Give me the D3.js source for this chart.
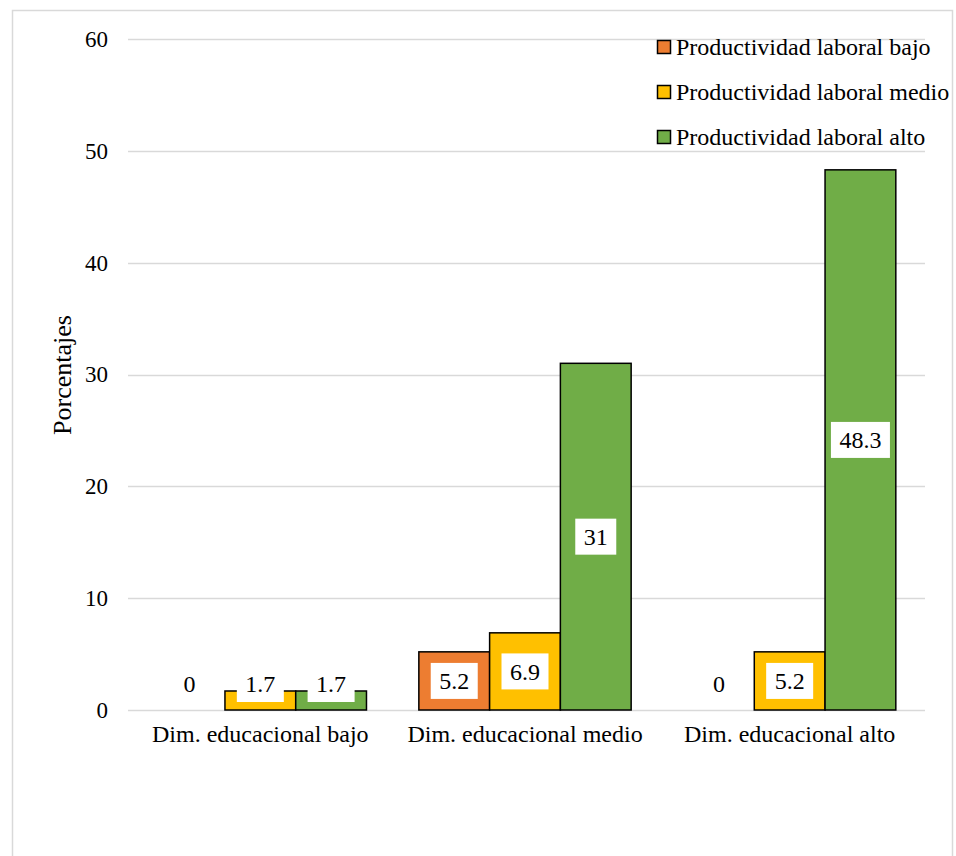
<!DOCTYPE html>
<html><head><meta charset="utf-8">
<script src="https://cdn.jsdelivr.net/npm/d3@7"></script>
<style>body{margin:0;background:#fff}svg{display:block}
svg text{font-family:"Liberation Serif","Tinos","Times New Roman","DejaVu Serif",serif;fill:#000}</style>
</head><body>
<svg id="c" width="956" height="856"></svg>
<script>
const categories = ["Dim. educacional bajo", "Dim. educacional medio", "Dim. educacional alto"];
const seriesNames = ["Productividad laboral bajo", "Productividad laboral medio", "Productividad laboral alto"];
const bajo = [0, 5.2, 0];
const medio = [1.7, 6.9, 5.2];
const alto = [1.7, 31, 48.3];
const colors = ["#ED7D31", "#FFC000", "#70AD47"];
const yTicks = [0, 10, 20, 30, 40, 50, 60];

const series = [bajo, medio, alto];
const svg = d3.select("#c");

svg.append("rect").attr("x", 12.5).attr("y", 10.5).attr("width", 940).attr("height", 900)
  .attr("fill", "#fff").attr("stroke", "#d9d9d9").attr("stroke-width", 1.5);

const pLeft = 128, pRight = 922, gridRight = 925, pTop = 39, pBottom = 710;
const x0 = d3.scaleBand().domain(categories).range([pLeft, pRight]).paddingInner(0).paddingOuter(0);
const x1 = d3.scaleBand().domain(d3.range(3)).range([0, x0.bandwidth()]).paddingOuter(0.37);
const y = d3.scaleLinear().domain([0, 60]).range([pBottom, pTop]);

// gridlines
svg.append("g").selectAll("line").data(yTicks).join("line")
  .attr("x1", pLeft).attr("x2", gridRight)
  .attr("y1", d => Math.round(y(d)) + 0.5).attr("y2", d => Math.round(y(d)) + 0.5)
  .attr("stroke", "#d9d9d9").attr("stroke-width", 1.5);

// y axis labels
const yAxis = d3.axisLeft(y).tickValues(yTicks).tickSize(0).tickPadding(20);
const ya = svg.append("g").attr("transform", `translate(${pLeft},0)`).call(yAxis);
ya.attr("font-family", null).attr("font-size", null);
ya.select(".domain").remove();
ya.selectAll("text").style("font-size", "23px");

// x axis labels
const xAxis = d3.axisBottom(x0).tickSize(0).tickPadding(15);
const xa = svg.append("g").attr("transform", `translate(0,${pBottom})`).call(xAxis);
xa.attr("font-family", null).attr("font-size", null);
xa.select(".domain").remove();
xa.selectAll("text").style("font-size", "24px");

// y axis title
svg.append("text").attr("transform", "translate(71,375) rotate(-90)")
  .attr("text-anchor", "middle").style("font-size", "26px")
  .text("Porcentajes");

// bars
const groups = svg.append("g").selectAll("g").data(categories).join("g")
  .attr("transform", d => `translate(${x0(d)},0)`);
const barData = (c, ci) => series.map((s, si) => ({ v: s[ci], si }));
groups.each(function (c, ci) {
  const g = d3.select(this);
  const data = barData(c, ci);
  g.selectAll("rect.bar").data(data.filter(d => d.v > 0)).join("rect").attr("class", "bar")
    .attr("x", d => x1(d.si)).attr("width", x1.bandwidth())
    .attr("y", d => y(d.v)).attr("height", d => y(0) - y(d.v))
    .attr("fill", d => colors[d.si]).attr("stroke", "#000").attr("stroke-width", 1.5);
  const lab = g.selectAll("g.lab").data(data).join("g").attr("class", "lab")
    .attr("transform", d => {
      const cy = Math.min((y(d.v) + y(0)) / 2, y(0) - 26);
      return `translate(${x1(d.si) + x1.bandwidth() / 2},${cy})`;
    });
  lab.each(function (d) {
    const l = d3.select(this);
    const t = l.append("text").attr("text-anchor", "middle").attr("dy", "0.35em")
      .style("font-size", "24px")
      .text(String(d.v));
    const w = t.node().getComputedTextLength();
    l.insert("rect", "text").attr("x", -w / 2 - 8.5).attr("y", -18)
      .attr("width", w + 17).attr("height", 36).attr("fill", "#fff");
  });
});

// legend
const lg = svg.append("g").selectAll("g").data(seriesNames).join("g")
  .attr("transform", (d, i) => `translate(657,${47 + i * 45})`);
lg.append("rect").attr("x", 0.5).attr("y", -6.5).attr("width", 13).attr("height", 13)
  .attr("fill", (d, i) => colors[i]).attr("stroke", "#000").attr("stroke-width", 1.5);
lg.append("text").attr("x", 19).attr("dy", "0.33em")
  .style("font-size", "24px").text(d => d);
</script>
</body></html>
